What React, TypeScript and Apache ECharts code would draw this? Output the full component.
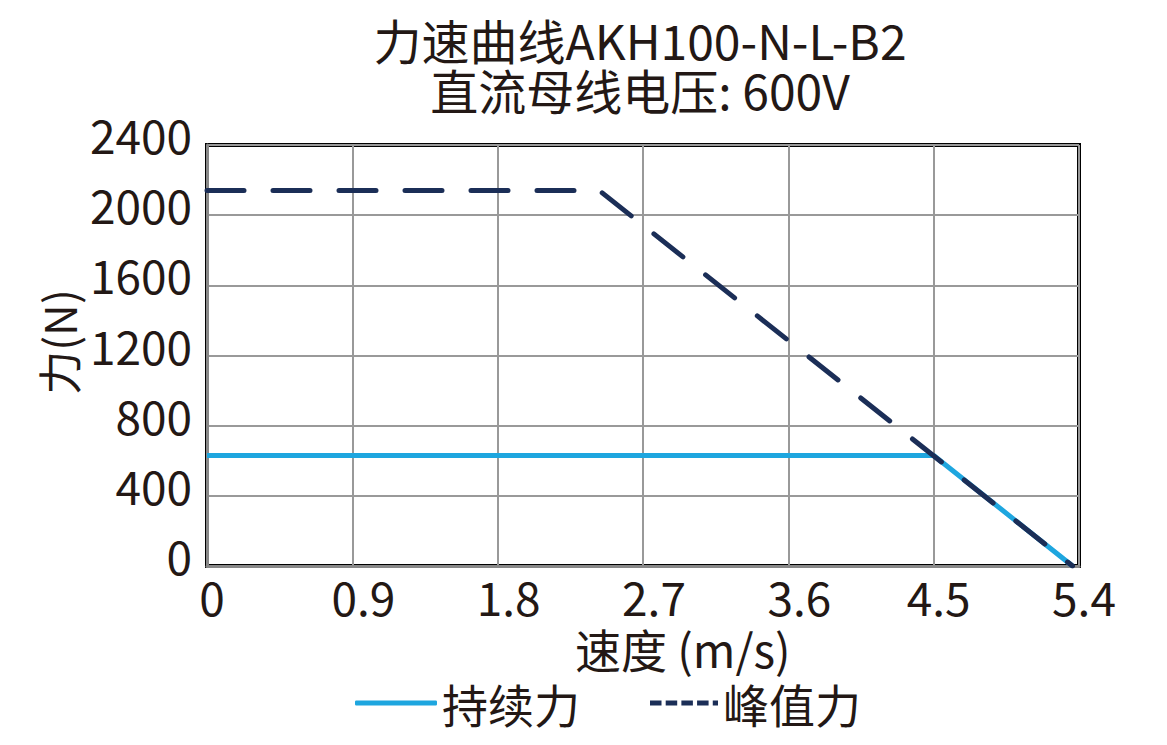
import React, { useEffect, useRef } from "react";
import * as echarts from "echarts";

const titleLines = ["力速曲线AKH100-N-L-B2", "直流母线电压: 600V"];
const xName = "速度 (m/s)";
const yName = "力(N)";
const xTicks = [0, 0.9, 1.8, 2.7, 3.6, 4.5, 5.4];
const continuousName = "持续力";
const peakName = "峰值力";
const continuousData: [number, number][] = [
  [0, 630],
  [4.5, 630],
  [5.36, 0],
];
const peakData: [number, number][] = [
  [0, 2140],
  [2.43, 2140],
  [5.36, 0],
];

const FONT = '"Noto Sans CJK SC", "Noto Sans", sans-serif';
const TXT = "#231815";
const BLUE = "#1ea6df";
const NAVY = "#1b2e57";
const DASH_ICON =
  "path://M0,0h11v5h-11z M15,0h11v5h-11z M30,0h11v5h-11z M45,0h11v5h-11z M60,0h5v5h-5z";

export default function App() {
  const ref = useRef<HTMLDivElement>(null);
  useEffect(() => {
    document.body.style.margin = "0";
    if (!ref.current) return;
    const chart = echarts.init(ref.current, undefined, { renderer: "svg" });
    const titleStyle = { fontFamily: FONT, fontSize: 48, fontWeight: "normal", color: TXT, lineHeight: 48 };
    chart.setOption({
      animation: false,
      backgroundColor: "#ffffff",
      textStyle: { fontFamily: FONT, color: TXT },
      title: [
        { text: titleLines[0], left: 640, textAlign: "center", top: 15, padding: 0, textStyle: titleStyle },
        { text: titleLines[1], left: 640, textAlign: "center", top: 65, padding: 0, textStyle: titleStyle },
      ],
      grid: {
        left: 207,
        right: 88,
        top: 145,
        bottom: 179,
        show: true,
        borderColor: "#000",
        borderWidth: 4,
        containLabel: false,
      },
      legend: [
        {
          data: [{ name: continuousName, icon: "roundRect" }],
          left: 350,
          top: 675,
          itemWidth: 82,
          itemHeight: 5,
          symbolKeepAspect: false,
          itemStyle: { color: BLUE },
          textStyle: { fontFamily: FONT, fontSize: 46, color: TXT },
        },
        {
          data: [{ name: peakName, icon: DASH_ICON }],
          left: 645,
          top: 675,
          itemWidth: 68,
          itemHeight: 5,
          symbolKeepAspect: false,
          itemStyle: { color: NAVY },
          textStyle: { fontFamily: FONT, fontSize: 46, color: TXT },
        },
      ],
      xAxis: {
        type: "value",
        min: 0,
        max: 5.4,
        interval: 0.9,
        axisLine: { show: true, lineStyle: { color: "#888", width: 3 } },
        axisTick: { show: false },
        splitLine: { show: true, lineStyle: { color: "#999", width: 2 } },
        axisLabel: {
          fontFamily: FONT,
          fontSize: 46,
          color: TXT,
          margin: 7,
          formatter: (v: number) => {
            const i = xTicks.findIndex((x) => Math.abs(x - v) < 1e-6);
            if (i < 0) return "";
            const key = i === 0 || i >= 5 ? "b" : "a";
            return "{" + key + "|" + String(xTicks[i]) + "}";
          },
          rich: {
            a: { fontFamily: FONT, fontSize: 46, lineHeight: 46, color: TXT, padding: [0, 0, 0, 22] },
            b: { fontFamily: FONT, fontSize: 46, lineHeight: 46, color: TXT, padding: [0, 0, 0, 10] },
          },
        },
      },
      yAxis: {
        type: "value",
        min: 0,
        max: 2400,
        interval: 400,
        axisLine: { show: true, lineStyle: { color: "#888", width: 3 } },
        axisTick: { show: false },
        splitLine: { show: true, lineStyle: { color: "#999", width: 2 } },
        axisLabel: {
          fontFamily: FONT,
          fontSize: 46,
          color: TXT,
          margin: 15,
          verticalAlign: "bottom",
          lineHeight: 22,
          formatter: (v: number) => String(v),
        },
      },
      graphic: [
        {
          type: "text",
          left: 575,
          top: 625,
          style: { text: xName, fontFamily: FONT, fontSize: 46, fill: TXT },
        },
        {
          type: "text",
          x: 58,
          y: 342,
          rotation: Math.PI / 2,
          style: { text: yName, fontFamily: FONT, fontSize: 44, fill: TXT, align: "center", verticalAlign: "middle" },
        },
      ],
      series: [
        {
          name: continuousName,
          type: "line",
          data: continuousData,
          symbol: "none",
          lineStyle: { color: BLUE, width: 5 },
          itemStyle: { color: BLUE },
        },
        {
          name: peakName,
          type: "line",
          data: peakData,
          symbol: "none",
          lineStyle: { color: NAVY, width: 5, type: [37, 29], cap: "round" },
          itemStyle: { color: NAVY },
        },
      ],
    });
    return () => chart.dispose();
  }, []);
  return <div ref={ref} style={{ width: 1167, height: 745 }} />;
}
